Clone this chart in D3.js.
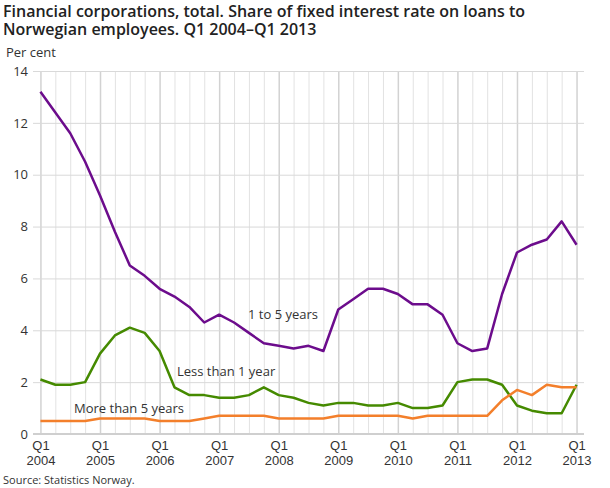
<!DOCTYPE html>
<html>
<head>
<meta charset="utf-8">
<script src="https://cdn.jsdelivr.net/npm/d3@7"></script>
<style>
  body { margin: 0; background: #fff; }
  svg { display: block; font-family: "Open Sans", sans-serif; }
  .grid line { stroke: #d9d9d9; stroke-width: 1; }
  .grid path { display: none; }
  .tick text { fill: #333; font-size: 13px; }
</style>
</head>
<body>
<div id="chart"></div>
<script>
const quarters = d3.range(37); // Q1 2004 .. Q1 2013
const yearLabels = ['2004', '2005', '2006', '2007', '2008', '2009', '2010', '2011', '2012', '2013'];
const yTicks = [0, 2, 4, 6, 8, 10, 12, 14];
const titleLines = ['Financial corporations, total. Share of fixed interest rate on loans to',
  'Norwegian employees. Q1 2004\u2013Q1 2013'];

const oneToFive = [13.2, 12.4, 11.6, 10.5, 9.2, 7.8, 6.5, 6.1, 5.6, 5.3, 4.9, 4.3,
  4.6, 4.3, 3.9, 3.5, 3.4, 3.3, 3.4, 3.2, 4.8, 5.2, 5.6, 5.6, 5.4, 5.0, 5.0, 4.6,
  3.5, 3.2, 3.3, 5.4, 7.0, 7.3, 7.5, 8.2, 7.3];
const lessThanOne = [2.1, 1.9, 1.9, 2.0, 3.1, 3.8, 4.1, 3.9, 3.2, 1.8, 1.5, 1.5,
  1.4, 1.4, 1.5, 1.8, 1.5, 1.4, 1.2, 1.1, 1.2, 1.2, 1.1, 1.1, 1.2, 1.0, 1.0, 1.1,
  2.0, 2.1, 2.1, 1.9, 1.1, 0.9, 0.8, 0.8, 1.9];
const moreThanFive = [0.5, 0.5, 0.5, 0.5, 0.6, 0.6, 0.6, 0.6, 0.5, 0.5, 0.5, 0.6,
  0.7, 0.7, 0.7, 0.7, 0.6, 0.6, 0.6, 0.6, 0.7, 0.7, 0.7, 0.7, 0.7, 0.6, 0.7, 0.7,
  0.7, 0.7, 0.7, 1.3, 1.7, 1.5, 1.9, 1.8, 1.8];

const series = [
  { name: '1 to 5 years', values: oneToFive, color: '#6c0c8c', label: [248, 319] },
  { name: 'Less than 1 year', values: lessThanOne, color: '#458a00', label: [177, 376] },
  { name: 'More than 5 years', values: moreThanFive, color: '#f37f2b', label: [74, 413] }
];

const width = 610, height = 488;
const margin = { top: 71, right: 26, bottom: 54, left: 33 };
const innerW = width - margin.left - margin.right;
const innerH = height - margin.top - margin.bottom;

const svg = d3.select('#chart').append('svg')
  .attr('width', width)
  .attr('height', height);

svg.selectAll('.title')
  .data(titleLines)
  .join('text')
  .attr('class', 'title')
  .attr('x', 3)
  .attr('y', (d, i) => 17 + i * 18)
  .attr('font-size', 16).attr('font-weight', 600).attr('fill', '#222')
  .text(d => d);

svg.append('text')
  .attr('x', 6).attr('y', 57)
  .attr('font-size', 13).attr('fill', '#333')
  .text('Per cent');

const g = svg.append('g').attr('transform', `translate(${margin.left},${margin.top})`);

const x = d3.scaleLinear().domain([-0.5, 36.5]).range([0, innerW]);
const y = d3.scaleLinear().domain([0, 14]).range([innerH, 0]);

// vertical quarter gridlines, Q1 a bit stronger
g.append('g')
  .attr('class', 'grid')
  .attr('transform', `translate(0,${innerH})`)
  .call(d3.axisBottom(x).tickValues(quarters).tickSize(-innerH).tickFormat(''))
  .selectAll('.tick line')
  .style('stroke', d => d % 4 === 0 ? '#d2d2d2' : '#e2e2e2')
  .style('stroke-width', d => d % 4 === 0 ? 1.5 : 1);

// horizontal gridlines
g.append('g')
  .attr('class', 'grid')
  .call(d3.axisLeft(y).tickValues(yTicks).tickSize(-innerW).tickFormat(''));

// y labels
const yAxis = g.append('g')
  .call(d3.axisLeft(y).tickValues(yTicks).tickSize(0).tickPadding(5));
yAxis.select('.domain').remove();
yAxis.selectAll('text').attr('font-family', '"Open Sans", sans-serif');

// baseline
g.append('line')
  .attr('x1', 0).attr('x2', innerW)
  .attr('y1', y(0)).attr('y2', y(0))
  .attr('stroke', '#cfcfcf').attr('stroke-width', 2);

// x labels every Q1, two separate lines
const xAxis = g.append('g')
  .attr('transform', `translate(0,${innerH})`)
  .call(d3.axisBottom(x).tickValues(quarters.filter(q => q % 4 === 0)).tickSize(0).tickFormat(''));
xAxis.select('.domain').remove();
xAxis.selectAll('.tick').each(function(d) {
  const tick = d3.select(this);
  tick.append('text')
    .attr('fill', '#333').attr('font-size', 13)
    .attr('text-anchor', 'middle')
    .attr('y', 16)
    .text('Q1');
  tick.append('text')
    .attr('fill', '#333').attr('font-size', 13)
    .attr('text-anchor', 'middle')
    .attr('y', 31)
    .text(yearLabels[d / 4]);
});

const line = d3.line()
  .x((d, i) => x(quarters[i]))
  .y(d => y(d));

series.forEach(s => {
  g.append('path')
    .datum(s.values)
    .attr('fill', 'none')
    .attr('stroke', s.color)
    .attr('stroke-width', 2.5)
    .attr('stroke-linejoin', 'round')
    .attr('d', line);
});

svg.selectAll('.series-label')
  .data(series)
  .join('text')
  .attr('class', 'series-label')
  .attr('x', d => d.label[0])
  .attr('y', d => d.label[1])
  .attr('font-size', 13).attr('fill', '#333')
  .text(d => d.name);

svg.append('text')
  .attr('x', 3).attr('y', 484)
  .attr('font-size', 11).attr('fill', '#333')
  .text('Source: Statistics Norway.');
</script>
</body>
</html>
